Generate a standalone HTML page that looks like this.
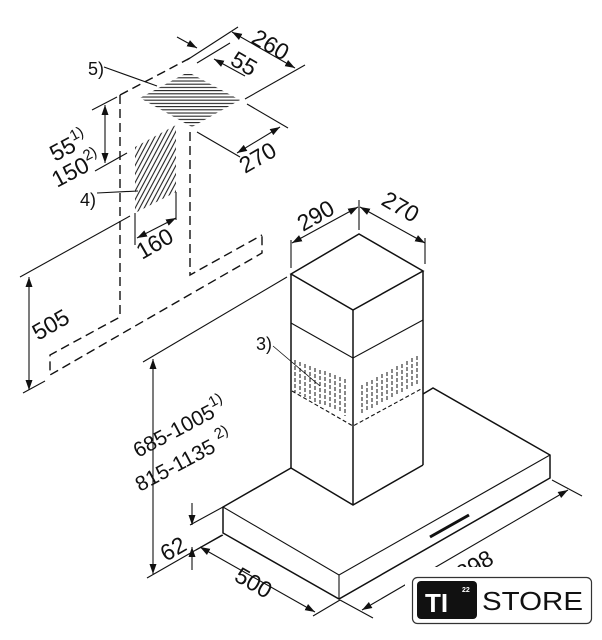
<!DOCTYPE html>
<html><head><meta charset="utf-8"><style>
html,body{margin:0;padding:0;background:#fff;}
svg{display:block;}
text{font-family:"Liberation Sans",sans-serif;fill:#111;}
</style></head><body>
<svg width="602" height="640" viewBox="0 0 602 640" xmlns="http://www.w3.org/2000/svg">
<defs>
<marker id="a" viewBox="0 0 10 10" refX="10" refY="5" markerWidth="10" markerHeight="10" orient="auto-start-reverse" markerUnits="userSpaceOnUse"><path d="M0,1.5 L10,5 L0,8.5 z" fill="#111"/></marker>
<pattern id="hh" width="6" height="3.2" patternUnits="userSpaceOnUse"><line x1="0" y1="1" x2="6" y2="1" stroke="#222" stroke-width="1.1"/></pattern>
<pattern id="hd" width="4" height="4" patternUnits="userSpaceOnUse" patternTransform="rotate(28)"><line x1="1" y1="0" x2="1" y2="4" stroke="#222" stroke-width="1.1"/></pattern>
</defs>
<g stroke="#111" stroke-width="1.1" fill="none">
<g stroke-dasharray="9,5" stroke-width="1.4">
<polyline points="120,95 192,57"/>
<polyline points="120,95 120,317 50,355 50,375 262,253 262,235"/>
<polyline points="190,132 190,275 262,235"/>
</g>
<polygon points="140,98 188,72 240,100 192,127" fill="url(#hh)" stroke="none"/>
<polygon points="135,147 176,125 176,192 135,213" fill="url(#hd)" stroke="none"/>
<line x1="104" y1="67" x2="157" y2="86"/>
<line x1="97" y1="193" x2="138" y2="191"/>
<line x1="187" y1="60" x2="238" y2="27"/>
<line x1="245" y1="99" x2="305" y2="65"/>
<line x1="232" y1="32" x2="295" y2="68" marker-start="url(#a)" marker-end="url(#a)"/>
<line x1="197" y1="63" x2="230" y2="43"/>
<line x1="177" y1="37" x2="197" y2="48" marker-end="url(#a)"/>
<line x1="245" y1="76" x2="214" y2="59" marker-end="url(#a)"/>
<line x1="247" y1="104" x2="288" y2="128"/>
<line x1="197" y1="132" x2="240" y2="157"/>
<line x1="237" y1="153" x2="280" y2="127" marker-start="url(#a)" marker-end="url(#a)"/>
<line x1="92" y1="110" x2="117" y2="97"/>
<line x1="95" y1="171" x2="127" y2="153"/>
<line x1="105" y1="105" x2="105" y2="163" marker-start="url(#a)" marker-end="url(#a)"/>
<line x1="135" y1="213" x2="135" y2="245"/>
<line x1="176" y1="192" x2="176" y2="220"/>
<line x1="137" y1="238" x2="176" y2="218" marker-start="url(#a)" marker-end="url(#a)"/>
<line x1="20" y1="277" x2="130" y2="216"/>
<line x1="23" y1="393" x2="45" y2="381"/>
<line x1="29" y1="277" x2="29" y2="390" marker-start="url(#a)" marker-end="url(#a)"/>
<line x1="143" y1="362" x2="287" y2="277"/>
<line x1="153" y1="359" x2="153" y2="574" marker-start="url(#a)" marker-end="url(#a)"/>
<line x1="147" y1="578" x2="222" y2="535"/>
<line x1="190" y1="525" x2="223" y2="507"/>
<line x1="192" y1="503" x2="192" y2="525" marker-end="url(#a)"/>
<line x1="192" y1="570" x2="192" y2="547" marker-end="url(#a)"/>
<g stroke-width="1.5">
<polygon points="291,274 359,234 423,271 353,310"/>
<line x1="291" y1="274" x2="291" y2="468"/>
<line x1="353" y1="310" x2="353" y2="505"/>
<line x1="423" y1="271" x2="423" y2="465"/>
<polyline points="291,468 353,505 423,465"/>
</g>
<polyline points="291,323 353,358 423,320"/>
<polyline points="292,391 353,426 423,388" stroke-dasharray="4,2.5"/>
<g stroke-dasharray="4,2" stroke-width="1">
<line x1="295" y1="360" x2="295" y2="392"/><line x1="300" y1="362" x2="300" y2="394"/><line x1="305" y1="364" x2="305" y2="397"/><line x1="310" y1="366" x2="310" y2="399"/><line x1="315" y1="368" x2="315" y2="402"/><line x1="320" y1="370" x2="320" y2="404"/><line x1="325" y1="371" x2="325" y2="406"/><line x1="330" y1="373" x2="330" y2="409"/><line x1="335" y1="375" x2="335" y2="411"/><line x1="340" y1="377" x2="340" y2="413"/><line x1="345" y1="379" x2="345" y2="416"/>
<line x1="362" y1="385" x2="362" y2="413"/><line x1="367" y1="382" x2="367" y2="411"/><line x1="372" y1="380" x2="372" y2="408"/><line x1="377" y1="377" x2="377" y2="406"/><line x1="382" y1="374" x2="382" y2="403"/><line x1="387" y1="372" x2="387" y2="400"/><line x1="392" y1="369" x2="392" y2="398"/><line x1="397" y1="366" x2="397" y2="395"/><line x1="402" y1="364" x2="402" y2="393"/><line x1="407" y1="361" x2="407" y2="390"/><line x1="412" y1="358" x2="412" y2="388"/><line x1="417" y1="356" x2="417" y2="386"/>
</g>
<line x1="273" y1="346" x2="320" y2="386" stroke-width="0.8"/>
<line x1="291" y1="240" x2="291" y2="268"/>
<line x1="359" y1="200" x2="359" y2="230"/>
<line x1="425" y1="238" x2="425" y2="264"/>
<line x1="292" y1="243" x2="358" y2="207" marker-start="url(#a)" marker-end="url(#a)"/>
<line x1="360" y1="207" x2="425" y2="243" marker-start="url(#a)" marker-end="url(#a)"/>
<g stroke-width="1.5">
<polyline points="423,394 433,388 550,455 550,478 339,599 223,533 223,507 291,468"/>
</g>
<polyline points="223,507 339,575 550,455"/>
<line x1="339" y1="575" x2="339" y2="599"/>
<line x1="430" y1="537" x2="469" y2="515" stroke-width="3"/>
<line x1="223" y1="535" x2="196" y2="550"/>
<line x1="340" y1="600" x2="313" y2="616"/>
<line x1="200" y1="547" x2="315" y2="612" marker-start="url(#a)" marker-end="url(#a)"/>
<line x1="340" y1="600" x2="373" y2="618"/>
<line x1="552" y1="480" x2="582" y2="496"/>
<line x1="362" y1="610" x2="568" y2="490" marker-start="url(#a)" marker-end="url(#a)"/>
</g>
<text x="88" y="75" font-size="18">5)</text>
<text x="80" y="206" font-size="18">4)</text>
<text x="256" y="350" font-size="18">3)</text>
<text font-size="23" transform="translate(250,42) rotate(30)">260</text>
<text font-size="23" transform="translate(229,64) rotate(30)">55</text>
<text font-size="23" transform="translate(245,174) rotate(-30)">270</text>
<text font-size="23" transform="translate(142,260) rotate(-30)">160</text>
<text font-size="23" transform="translate(55,162) rotate(-28)">55<tspan font-size="15" dy="-10">1)</tspan></text>
<text font-size="23" transform="translate(57,188) rotate(-28)">150<tspan font-size="15" dy="-10">2)</tspan></text>
<text font-size="23" transform="translate(38,341) rotate(-30)">505</text>
<text font-size="23" transform="translate(303,232) rotate(-30)">290</text>
<text font-size="23" transform="translate(380,204) rotate(30)">270</text>
<text font-size="21" transform="translate(138,458) rotate(-28)">685-1005<tspan font-size="15" dy="-10">1)</tspan></text>
<text font-size="21" transform="translate(140,492) rotate(-28)">815-1135 <tspan font-size="15" dy="-10">2)</tspan></text>
<text font-size="23" transform="translate(166,562) rotate(-30)">62</text>
<text font-size="23" transform="translate(233,580) rotate(30)">500</text>
<text font-size="23" transform="translate(462,582) rotate(-30)">898</text>
<rect x="405" y="567" width="197" height="73" fill="#fff"/>
<rect x="412.5" y="577.5" width="179" height="46" rx="5" fill="#fff" stroke="#333" stroke-width="1.2"/>
<rect x="417" y="581" width="60" height="38" rx="4" fill="#111"/>
<text x="425" y="612" font-size="26" font-weight="bold" style="fill:#fff">TI</text>
<text x="462" y="592" font-size="7" font-weight="bold" style="fill:#fff">22</text>
<text x="482" y="610" font-size="26" textLength="101" lengthAdjust="spacingAndGlyphs">STORE</text>
</svg>
</body></html>
